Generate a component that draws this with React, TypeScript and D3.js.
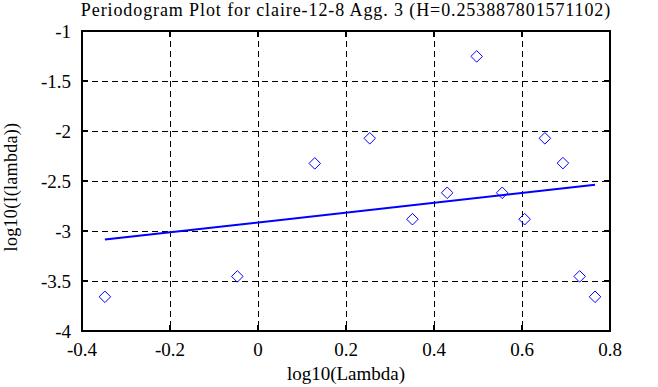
import React from "react";
import * as d3 from "d3";

const logLambda = [-0.348, -0.047, 0.129, 0.254, 0.351, 0.430, 0.497, 0.555, 0.606, 0.652, 0.693, 0.731, 0.766];
const logI = [-3.658, -3.454, -2.324, -2.073, -2.882, -2.618, -1.254, -2.618, -2.882, -2.073, -2.321, -3.454, -3.658];
const fitX = [-0.348, 0.766];
const fitY = [-3.086, -2.538];
const xTicks = [-0.4, -0.2, 0, 0.2, 0.4, 0.6, 0.8];
const yTicks = [-1, -1.5, -2, -2.5, -3, -3.5, -4];
const title = "Periodogram Plot for claire-12-8 Agg. 3 (H=0.253887801571102)";
const xLabel = "log10(Lambda)";
const yLabel = "log10(I(lambda))";

const W = 658, H = 387;
const L = 82, R = 610, T = 31, B = 331;
const txt: React.CSSProperties = { fontFamily: '"Liberation Serif", "Times New Roman", serif', fontSize: 19, fill: "#000" };

export default function App() {
  const x = d3.scaleLinear().domain([-0.4, 0.8]).range([L, R]);
  const y = d3.scaleLinear().domain([-4, -1]).range([B, T]);
  const line = d3.line<number>().x((d, i) => x(fitX[i])).y((d) => y(d));
  const sym = d3.symbol().type(d3.symbolDiamond2).size(85);
  const fmt = (v: number) => (v === 0 ? "0" : String(v));
  const tl = 6;
  return (
    <svg width={W} height={H} style={{ position: "absolute", left: 0, top: 0, background: "#fff" }}>
      <rect x={0} y={0} width={W} height={H} fill="#fff" />
      {xTicks.slice(1, -1).map((t) => (
        <line key={"gx" + t} x1={x(t)} x2={x(t)} y1={T} y2={B} stroke="#000" strokeWidth={1} strokeDasharray="6,4" shapeRendering="crispEdges" />
      ))}
      {yTicks.slice(1, -1).map((t) => (
        <line key={"gy" + t} x1={L} x2={R} y1={y(t)} y2={y(t)} stroke="#000" strokeWidth={1} strokeDasharray="6,4" shapeRendering="crispEdges" />
      ))}
      {xTicks.map((t) => (
        <g key={"tx" + t}>
          <line x1={x(t)} x2={x(t)} y1={B} y2={B - tl} stroke="#000" strokeWidth={2} shapeRendering="crispEdges" />
          <line x1={x(t)} x2={x(t)} y1={T} y2={T + tl} stroke="#000" strokeWidth={2} shapeRendering="crispEdges" />
          <text x={x(t)} y={356} textAnchor="middle" style={txt}>{fmt(t)}</text>
        </g>
      ))}
      {yTicks.map((t) => (
        <g key={"ty" + t}>
          <line x1={L} x2={L + tl} y1={y(t)} y2={y(t)} stroke="#000" strokeWidth={2} shapeRendering="crispEdges" />
          <line x1={R} x2={R - tl} y1={y(t)} y2={y(t)} stroke="#000" strokeWidth={2} shapeRendering="crispEdges" />
          <text x={71} y={y(t) + 6.5} textAnchor="end" style={txt}>{fmt(t)}</text>
        </g>
      ))}
      <rect x={L} y={T} width={R - L} height={B - T} fill="none" stroke="#000" strokeWidth={2} shapeRendering="crispEdges" />
      <path d={line(fitY) || ""} fill="none" stroke="#0000ff" strokeWidth={2} />
      {logLambda.map((v, i) => (
        <path key={"p" + i} d={sym() || ""} transform={`translate(${x(v)},${y(logI[i])})`} fill="none" stroke="#0000ff" strokeWidth={1} />
      ))}
      <text x={(L + R) / 2} y={16} textAnchor="middle" style={{ ...txt, fontSize: 18, letterSpacing: 0.9 }}>{title}</text>
      <text x={(L + R) / 2} y={380} textAnchor="middle" style={txt}>{xLabel}</text>
      <text transform={`translate(17,187) rotate(-90)`} textAnchor="middle" style={{ ...txt, fontSize: 18, letterSpacing: 0.3 }}>{yLabel}</text>
    </svg>
  );
}
